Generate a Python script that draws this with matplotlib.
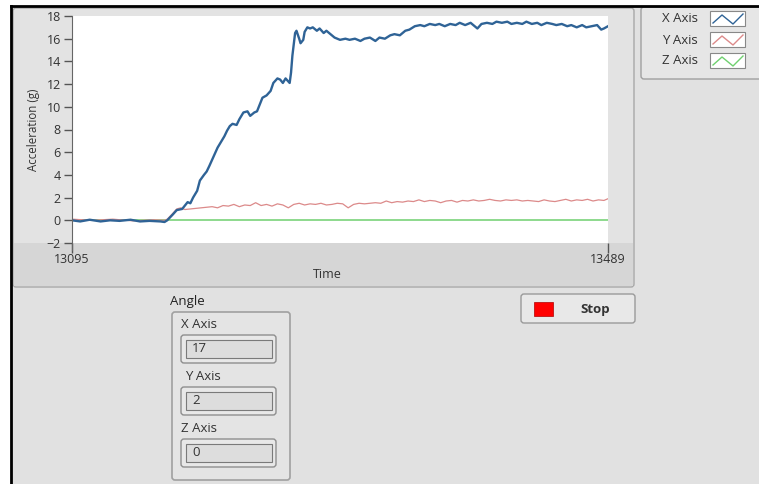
import matplotlib
matplotlib.use("Agg")
import matplotlib.pyplot as plt
from matplotlib.patches import Rectangle, FancyBboxPatch

plt.rcParams['font.family'] = ['Open Sans', 'DejaVu Sans']

# data
t_x = [13095, 13101, 13108, 13116, 13123, 13130, 13138, 13145, 13152, 13160, 13163,
       13165, 13169, 13172, 13176, 13180, 13182, 13184, 13187, 13189, 13192, 13194,
       13196, 13199, 13202, 13204, 13207, 13209, 13211, 13213, 13216, 13218, 13221,
       13224, 13226, 13229, 13231, 13233, 13235, 13238, 13241, 13243, 13246, 13248,
       13250, 13252, 13255, 13256, 13257, 13259, 13260, 13262, 13263, 13265, 13266,
       13268, 13270, 13272, 13275, 13277, 13280, 13282, 13285, 13288, 13292, 13296,
       13299, 13303, 13307, 13310, 13314, 13318, 13321, 13325, 13329, 13332, 13336,
       13340, 13343, 13347, 13351, 13354, 13358, 13362, 13365, 13369, 13373, 13377,
       13380, 13384, 13388, 13391, 13393, 13396, 13400, 13404, 13407, 13411, 13415,
       13418, 13422, 13426, 13429, 13433, 13437, 13440, 13444, 13448, 13451, 13455,
       13459, 13462, 13466, 13470, 13473, 13477, 13481, 13484, 13486, 13489]
acc_x = [0.0, -0.1, 0.05, -0.1, 0.0, -0.05, 0.05, -0.1, -0.05, -0.1, -0.15,
         0.0, 0.5, 0.9, 1.0, 1.6, 1.5, 2.0, 2.6, 3.5, 4.0, 4.3,
         4.8, 5.6, 6.4, 6.8, 7.4, 7.9, 8.3, 8.5, 8.4, 8.9, 9.5,
         9.6, 9.2, 9.5, 9.6, 10.2, 10.8, 11.0, 11.4, 12.1, 12.5, 12.4,
         12.1, 12.5, 12.1, 13.0, 14.5, 16.5, 16.7, 16.0, 15.6, 15.9, 16.6,
         17.0, 16.9, 17.0, 16.7, 16.9, 16.5, 16.7, 16.4, 16.1, 15.9, 16.0,
         15.9, 16.0, 15.8, 16.0, 16.1, 15.8, 16.1, 16.0, 16.3, 16.4, 16.3,
         16.7, 16.8, 17.1, 17.2, 17.1, 17.3, 17.2, 17.3, 17.1, 17.3, 17.2,
         17.4, 17.2, 17.4, 17.1, 16.9, 17.3, 17.4, 17.3, 17.5, 17.4, 17.5,
         17.3, 17.4, 17.3, 17.5, 17.3, 17.4, 17.2, 17.4, 17.3, 17.2, 17.3,
         17.1, 17.2, 17.0, 17.2, 17.0, 17.1, 17.2, 16.8, 16.9, 17.1]

t_y = [13095, 13110, 13125, 13140, 13155, 13163, 13165, 13169, 13172, 13175, 13178,
       13182, 13186, 13190, 13194, 13198, 13202, 13206, 13210, 13214, 13218, 13222,
       13226, 13230, 13234, 13238, 13242, 13246, 13250, 13254, 13258, 13262, 13266,
       13270, 13274, 13278, 13282, 13286, 13290, 13294, 13298, 13302, 13306, 13310,
       13314, 13318, 13322, 13326, 13330, 13334, 13338, 13342, 13346, 13350, 13354,
       13358, 13362, 13366, 13370, 13374, 13378, 13382, 13386, 13390, 13394, 13398,
       13402, 13406, 13410, 13414, 13418, 13422, 13426, 13430, 13434, 13438, 13442,
       13446, 13450, 13454, 13458, 13462, 13466, 13470, 13474, 13478, 13482, 13486, 13489]
acc_y = [0.1, 0.0, 0.1, -0.05, 0.05, 0.0, 0.1, 0.6, 1.0, 1.1, 0.95,
         1.0, 1.05, 1.1, 1.15, 1.2, 1.1, 1.3, 1.25, 1.4, 1.2, 1.35,
         1.3, 1.55, 1.3, 1.4, 1.25, 1.45, 1.35, 1.1, 1.4, 1.5, 1.35,
         1.45, 1.4, 1.5, 1.35, 1.4, 1.5, 1.45, 1.1, 1.4, 1.5, 1.45,
         1.5, 1.55, 1.5, 1.7, 1.55, 1.65, 1.6, 1.7, 1.65, 1.8, 1.65,
         1.75, 1.7, 1.55, 1.7, 1.75, 1.6, 1.75, 1.7, 1.8, 1.7, 1.75,
         1.85, 1.75, 1.7, 1.8, 1.75, 1.8, 1.7, 1.75, 1.7, 1.65, 1.8,
         1.7, 1.65, 1.75, 1.85, 1.7, 1.8, 1.75, 1.85, 1.7, 1.8, 1.75, 1.9]

t_z = [13095, 13489]
acc_z = [0.0, 0.0]

series_names = ["X Axis", "Y Axis", "Z Axis"]
series_colors = ["#2f6396", "#dc8a8a", "#6fd06f"]
angle_values = ["17", "2", "0"]
y_ticks = list(range(-2, 19, 2))
x_ticks = [13095, 13489]

W, H = 759, 484
fig = plt.figure(figsize=(W / 100, H / 100), dpi=100, facecolor="white")

# background / front panel drawn in pixel coordinates
bg = fig.add_axes([0, 0, 1, 1], zorder=0)
bg.set_xlim(0, W)
bg.set_ylim(H, 0)
bg.axis("off")

bg.add_patch(Rectangle((11, 6), W - 11, H - 6, facecolor="#e1e1e1", edgecolor="none"))
bg.plot([11, 11], [6, H], color="black", lw=2)
bg.plot([11, W], [6, 6], color="black", lw=2)

# graph panel
bg.add_patch(FancyBboxPatch((13, 8), 621, 279, boxstyle="round,pad=0,rounding_size=3",
                            facecolor="#e3e3e3", edgecolor="#a8a8a8", lw=1))
bg.add_patch(Rectangle((14, 243), 619, 43, facecolor="#d6d6d6", edgecolor="none"))

# legend
bg.add_patch(FancyBboxPatch((641, 7), 125, 72, boxstyle="round,pad=0,rounding_size=3",
                            facecolor="#e6e6e6", edgecolor="#a0a0a0", lw=1))
for i, (name, col) in enumerate(zip(series_names, series_colors)):
    yc = 19 + i * 21
    bg.text(698, yc, name, ha="right", va="center", fontsize=9.5, color="#333333")
    bg.add_patch(Rectangle((710, yc - 8), 35, 15, facecolor="white", edgecolor="#888888", lw=0.8))
    bg.plot([713, 722, 733, 743], [yc + 4, yc - 4, yc + 5, yc - 5], color=col, lw=1)

# stop button
bg.add_patch(FancyBboxPatch((521, 294), 114, 29, boxstyle="round,pad=0,rounding_size=3",
                            facecolor="#e8e8e8", edgecolor="#9a9a9a", lw=1))
bg.add_patch(Rectangle((534, 302), 19, 14, facecolor="#ff0000", edgecolor="#b00000", lw=0.5))
bg.text(595, 309, "Stop", ha="center", va="center", fontsize=9.5, fontweight="bold", color="#333333")

# angle cluster
bg.text(170, 302, "Angle", ha="left", va="center", fontsize=9.5, color="#222222")
bg.add_patch(FancyBboxPatch((172, 312), 118, 168, boxstyle="round,pad=0,rounding_size=3",
                            facecolor="#e4e4e4", edgecolor="#a0a0a0", lw=1.2))
for i, (name, val) in enumerate(zip(series_names, angle_values)):
    top = 335 + i * 52
    bg.text(181 + (4 if i == 1 else 0), top - 10, name, ha="left", va="center",
            fontsize=9.5, color="#333333")
    bg.add_patch(FancyBboxPatch((181, top), 95, 28, boxstyle="round,pad=0,rounding_size=3",
                                facecolor="#e8e8e8", edgecolor="#8e8e8e", lw=1))
    bg.add_patch(Rectangle((186, top + 5), 86, 18, facecolor="#dddddd", edgecolor="#7a7a7a", lw=0.8))
    bg.text(192, top + 14, val, ha="left", va="center", fontsize=9.5, color="#333333")

# waveform chart
ax = fig.add_axes([72 / W, 1 - 243 / H, (608 - 72) / W, (243 - 16) / H], zorder=1)
ax.set_facecolor("white")
ax.plot(t_z, acc_z, color=series_colors[2], lw=1.1)
ax.plot(t_y, acc_y, color=series_colors[1], lw=0.9)
ax.plot(t_x, acc_x, color=series_colors[0], lw=1.7)
ax.set_xlim(13095, 13489)
ax.set_ylim(-2, 18)
ax.set_yticks(y_ticks)
ax.set_xticks(x_ticks)
ax.tick_params(axis="y", direction="out", length=6, width=1, color="#555555",
               labelsize=9, labelcolor="#333333", pad=2)
ax.tick_params(axis="x", direction="out", length=7, width=1, color="#555555",
               labelsize=9, labelcolor="#333333", pad=0)
for s in ["top", "right", "bottom"]:
    ax.spines[s].set_visible(False)
ax.spines["left"].set_color("#666666")
ax.spines["left"].set_bounds(-2.6, 18)

bg.text(33, 130, "Acceleration (g)", rotation=90, ha="center", va="center",
        fontsize=8.3, color="#333333")
bg.text(327, 274, "Time", ha="center", va="center", fontsize=9, color="#333333")

fig.savefig("out.png", dpi=100)
